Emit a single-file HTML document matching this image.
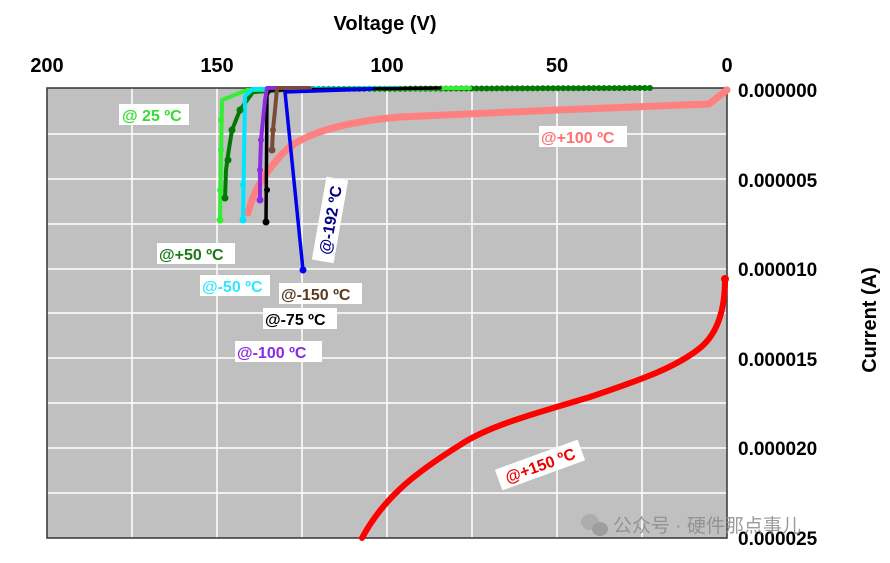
<!DOCTYPE html>
<html><head><meta charset="utf-8"><style>
body{margin:0;background:#fff;}
svg{display:block;font-family:"Liberation Sans",Arial,sans-serif;font-weight:bold;}
</style></head><body>
<svg width="890" height="563" viewBox="0 0 890 563" xmlns="http://www.w3.org/2000/svg">
<rect x="47" y="88" width="680" height="450" fill="#c0c0c0"/>
<g stroke="#fff" stroke-width="1.5">
<line x1="132" y1="88" x2="132" y2="538"/><line x1="217" y1="88" x2="217" y2="538"/>
<line x1="302" y1="88" x2="302" y2="538"/><line x1="387" y1="88" x2="387" y2="538"/>
<line x1="472" y1="88" x2="472" y2="538"/><line x1="557" y1="88" x2="557" y2="538"/>
<line x1="642" y1="88" x2="642" y2="538"/>
<line x1="47" y1="134" x2="727" y2="134"/><line x1="47" y1="179" x2="727" y2="179"/>
<line x1="47" y1="224" x2="727" y2="224"/><line x1="47" y1="269" x2="727" y2="269"/>
<line x1="47" y1="313" x2="727" y2="313"/><line x1="47" y1="358" x2="727" y2="358"/>
<line x1="47" y1="403" x2="727" y2="403"/><line x1="47" y1="448" x2="727" y2="448"/>
<line x1="47" y1="493" x2="727" y2="493"/>
</g>
<rect x="47" y="88" width="680" height="450" fill="none" stroke="#333" stroke-width="1.5"/>
<g font-size="20" text-anchor="middle" fill="#000">
<text x="385" y="30">Voltage (V)</text>
<text x="47" y="72">200</text><text x="217" y="72">150</text><text x="387" y="72">100</text><text x="557" y="72">50</text><text x="727" y="72">0</text>
</g>
<g font-size="19" fill="#000">
<text x="738" y="97">0.000000</text><text x="738" y="187">0.000005</text><text x="738" y="276">0.000010</text>
<text x="738" y="366">0.000015</text><text x="738" y="455">0.000020</text><text x="738" y="545">0.000025</text>
<text transform="translate(876,320) rotate(-90)" text-anchor="middle" font-size="20">Current (A)</text>
</g>
<g fill="none" stroke-linecap="round" stroke-linejoin="round">
<path stroke="#ff8080" stroke-width="7" d="M727,90 L709,104 L557,110 L400,117 C340,122 300,135 283,153 C268,170 255,185 248,213"/>
<path stroke="#ff0000" stroke-width="6" d="M725,279 C725,300 722,330 700,348 C675,368 640,380 590,397 C540,412 490,425 460,445 C420,470 385,495 362,538"/>
<polyline stroke="#007a00" stroke-width="6" stroke-dasharray="0.1 5" points="650,88 300,89"/>
<polyline stroke="#007a00" stroke-width="4" points="650,88 300,89 253,92 240,110 232,130 228,155 226,170 225,198"/>
<polyline stroke="#33ee33" stroke-width="4" points="470,88 247,90 222,100 220,220"/>
<polyline stroke="#00e5ff" stroke-width="4" points="400,88 253,89 245,96 243,220"/>
<polyline stroke="#000" stroke-width="3.5" points="440,88 270,90 267,95 266,222"/>
<polyline stroke="#8a2be2" stroke-width="4" points="300,88 267,88 265,100 261,140 260,170 260,200"/>
<polyline stroke="#7a4a3a" stroke-width="4" points="310,88 277,88 275,110 273,130 272,150"/>
<polyline stroke="#0000ee" stroke-width="3.5" points="372,89 285,92 303,270"/>
</g>
<g>
<circle cx="220" cy="220" r="3.5" fill="#33ee33"/><circle cx="220" cy="190" r="3" fill="#33ee33"/><circle cx="221" cy="150" r="3" fill="#33ee33"/><circle cx="221" cy="120" r="3" fill="#33ee33"/>
<circle cx="225" cy="198" r="3.5" fill="#007a00"/><circle cx="228" cy="160" r="3.5" fill="#007a00"/><circle cx="232" cy="130" r="3.5" fill="#007a00"/><circle cx="240" cy="110" r="3.5" fill="#007a00"/>
<circle cx="243" cy="220" r="3.5" fill="#00e5ff"/><circle cx="243" cy="185" r="3" fill="#00e5ff"/>
<circle cx="266" cy="222" r="3.5" fill="#000"/><circle cx="267" cy="190" r="3" fill="#000"/>
<circle cx="260" cy="200" r="3.5" fill="#8a2be2"/><circle cx="260" cy="170" r="3" fill="#8a2be2"/><circle cx="261" cy="140" r="3" fill="#8a2be2"/>
<circle cx="272" cy="150" r="3.5" fill="#7a4a3a"/><circle cx="273" cy="130" r="3" fill="#7a4a3a"/>
<circle cx="303" cy="270" r="3.5" fill="#0000ee"/>
<circle cx="725" cy="279" r="4" fill="#ff0000"/>
</g>
<g font-size="16">
<rect x="119" y="104" width="70" height="21" fill="#fff"/><text x="122" y="121" fill="#33dd33">@ 25 ºC</text>
<rect x="157" y="243" width="78" height="21" fill="#fff"/><text x="159" y="260" fill="#1a7a1a">@+50 ºC</text>
<rect x="200" y="275" width="70" height="21" fill="#fff"/><text x="202" y="292" fill="#33e5ff">@-50 ºC</text>
<rect x="279" y="283" width="83" height="21" fill="#fff"/><text x="281" y="300" fill="#5a3a20">@-150 ºC</text>
<rect x="263" y="308" width="74" height="21" fill="#fff"/><text x="265" y="325" fill="#000">@-75 ºC</text>
<rect x="235" y="341" width="87" height="21" fill="#fff"/><text x="237" y="358" fill="#8a2be2">@-100 ºC</text>
<rect x="539" y="126" width="88" height="21" fill="#fff"/><text x="541" y="143" fill="#ff7070">@+100 ºC</text>
<g transform="translate(330,220) rotate(-80)"><rect x="-42" y="-11" width="84" height="22" fill="#fff"/><text x="0" y="6" text-anchor="middle" fill="#00008b">@-192 ºC</text></g>
<g transform="translate(540,465) rotate(-20)"><rect x="-44" y="-11" width="88" height="22" fill="#fff"/><text x="0" y="6" text-anchor="middle" fill="#ee0000">@+150 ºC</text></g>
</g>
<g opacity="0.85">
<ellipse cx="590" cy="522" rx="9" ry="8" fill="#aaa"/><ellipse cx="600" cy="529" rx="8" ry="7" fill="#999"/>
<text x="613" y="532" font-size="19" font-weight="normal" fill="#8a8a8a" font-family="'Liberation Sans','Noto Sans CJK SC',sans-serif">公众号 · 硬件那点事儿</text>
</g>
</svg>
</body></html>
